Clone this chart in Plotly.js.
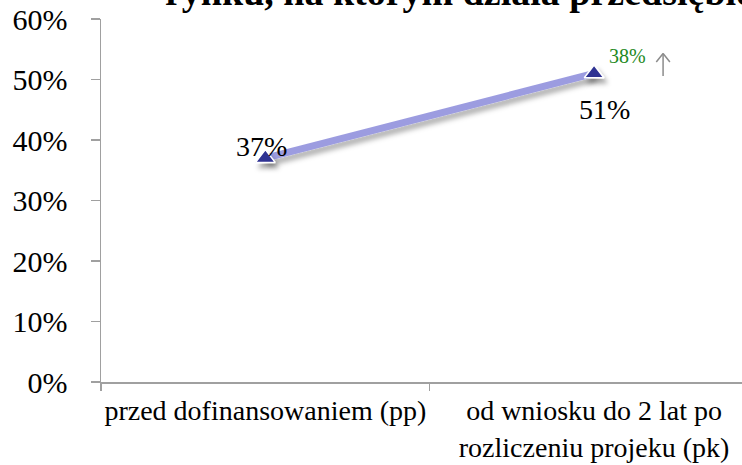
<!DOCTYPE html>
<html>
<head>
<meta charset="utf-8">
<script src="https://cdn.plot.ly/plotly-3.0.1.min.js"></script>
<style>
html,body{margin:0;padding:0;background:#fff;overflow:hidden;}
#chart{width:742px;height:465px;}
.scatterlayer .trace path.js-line{filter:url(#sh);}
.scatterlayer .trace .points path{filter:url(#sh2);}
</style>
</head>
<body>
<svg width="0" height="0" style="position:absolute">
  <defs>
    <filter id="sh" x="-10%" y="-50%" width="130%" height="300%">
      <feDropShadow dx="2" dy="5" stdDeviation="2.5" flood-color="#000" flood-opacity="0.3"/>
    </filter>
    <filter id="sh2" x="-50%" y="-50%" width="250%" height="250%">
      <feDropShadow dx="3" dy="5" stdDeviation="2.5" flood-color="#000" flood-opacity="0.35"/>
    </filter>
  </defs>
</svg>
<div id="chart"></div>
<script>
var categories = ["przed dofinansowaniem (pp)", "od wniosku do 2 lat po<br>rozliczeniu projeku (pk)"];
var values = [0.37, 0.51];
var changeLabel = "38%";
var titleText = "rynku, na którym działa przedsiębiorstwo";
var yTickVals = [0, 0.1, 0.2, 0.3, 0.4, 0.5, 0.6];

var serif = "Liberation Serif";

var trace = {
  x: categories,
  y: values,
  type: "scatter",
  mode: "lines+markers",
  line: {color: "#9c9ce0", width: 7},
  marker: {symbol: "triangle-up", size: 17, color: "#2e3192", line: {color: "#ffffff", width: 1.5}},
  hoverinfo: "none",
  cliponaxis: false
};

function pct(v){ return Math.round(v*100) + "%"; }

var annotations = [
  {x: categories[0], y: values[0], xref: "x", yref: "y", text: pct(values[0]), showarrow: false,
   xshift: -4, yshift: 12, font: {family: serif, size: 28, color: "#000"}},
  {x: categories[1], y: values[1], xref: "x", yref: "y", text: pct(values[1]), showarrow: false,
   xshift: 10, yshift: -36, font: {family: serif, size: 28, color: "#000"}},
  {x: categories[1], y: values[1], xref: "x", yref: "y", text: changeLabel, showarrow: false,
   xshift: 33, yshift: 17, font: {family: serif, size: 20, color: "#1e8a1e"}},
  {x: categories[1], y: values[1], xref: "x", yref: "y", text: "", showarrow: true,
   arrowhead: 0, arrowsize: 1, arrowwidth: 1.5, arrowcolor: "#8c8c8c",
   xshift: 69, yshift: 20, ax: 0, ay: 24},
  {x: categories[1], y: values[1], xref: "x", yref: "y", text: "", showarrow: true,
   arrowhead: 0, arrowwidth: 1.5, arrowcolor: "#8c8c8c",
   xshift: 69, yshift: 20, ax: -8, ay: 10},
  {x: categories[1], y: values[1], xref: "x", yref: "y", text: "", showarrow: true,
   arrowhead: 0, arrowwidth: 1.5, arrowcolor: "#8c8c8c",
   xshift: 69, yshift: 20, ax: 8, ay: 10},
  {x: 0.097, y: 1.075, xref: "paper", yref: "paper", xanchor: "left", yanchor: "middle",
   text: "<b>" + titleText + "</b>", showarrow: false,
   font: {family: serif, size: 38, color: "#000"}}
];

var layout = {
  width: 742, height: 465,
  margin: {l: 101, r: 0, t: 19, b: 83, pad: 0},
  paper_bgcolor: "#ffffff", plot_bgcolor: "#ffffff",
  showlegend: false,
  font: {family: serif, color: "#000"},
  xaxis: {
    type: "category",
    range: [-0.5, 1.45],
    showgrid: false, zeroline: false,
    showline: true, linecolor: "#a0a0a0", linewidth: 1.5,
    ticks: "outside", tickson: "boundaries", ticklen: 7, tickcolor: "#a0a0a0", tickwidth: 1.5,
    tickangle: 0,
    tickfont: {family: serif, size: 28, color: "#000"},
    ticklabelstandoff: 3
  },
  yaxis: {
    range: [0, 0.6],
    tickvals: yTickVals,
    tickformat: ".0%",
    showgrid: false, zeroline: false,
    showline: true, linecolor: "#a0a0a0", linewidth: 1.5,
    ticks: "outside", ticklen: 9, tickcolor: "#a0a0a0", tickwidth: 1.5,
    tickfont: {family: serif, size: 30, color: "#000"},
    ticklabelstandoff: 17
  },
  annotations: annotations
};

Plotly.newPlot("chart", [trace], layout, {displayModeBar: false, staticPlot: true});
</script>
</body>
</html>
